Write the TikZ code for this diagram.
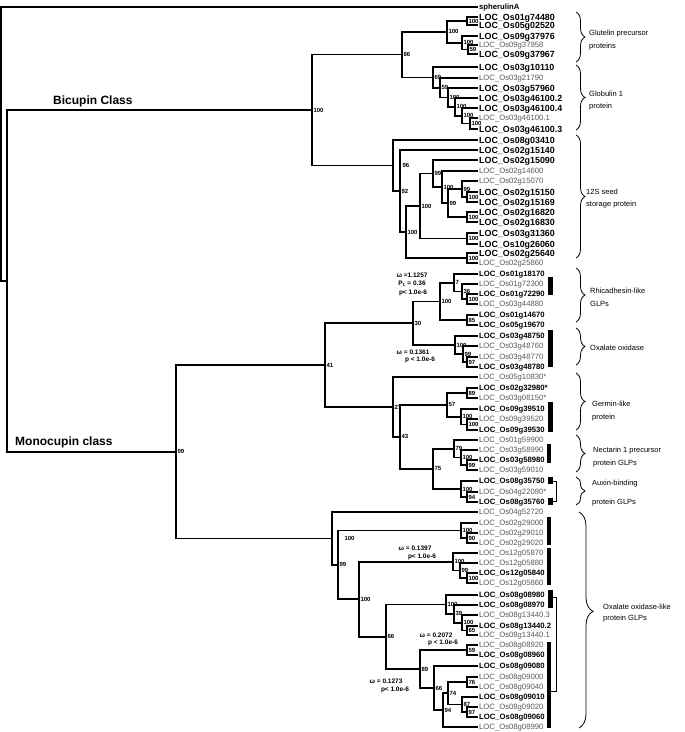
\documentclass[tikz,border=0pt]{standalone}
\usepackage{fontspec}
\setmainfont{Liberation Sans}
\usetikzlibrary{calc,decorations.pathreplacing}
\tikzset{
  tree/.style={line width=1.6pt, line cap=rect},
  thick tree/.style={line width=1.9pt, line cap=rect},
  leafR/.style={anchor=west, inner ysep=0pt, inner xsep=1.5pt, text=black!65, font=\fontsize{7.7}{8}\selectfont, text height=5.5pt, text depth=0pt},
  leafB/.style={leafR, text=black, font=\fontsize{7.7}{8}\selectfont\bfseries},
  leafU/.style={leafR, text=black, font=\fontsize{8.9}{9}\selectfont\bfseries, text height=6.4pt},
  bs/.style={anchor=west, inner sep=0.3pt, font=\fontsize{6}{6.5}\selectfont\bfseries},
  om/.style={inner sep=0pt, font=\fontsize{6.5}{7}\selectfont\bfseries},
  cls/.style={anchor=west, inner sep=0pt, font=\fontsize{12}{13}\selectfont\bfseries},
  grp/.style={anchor=west, inner sep=0pt, font=\fontsize{7.5}{8}\selectfont},
  brc/.style={decorate, decoration={brace, amplitude=9pt}, line width=0.8pt},
  bar/.style={fill=black}
}
\newcommand{\lf}[4]{\node[#4] (#1) at (477.5,#2) {#3};}
\newcommand{\nd}[6][1]{%
  \path let \p1=(#4), \p2=(#5) in coordinate (#2) at (#3pt,{0.5*(\y1+\y2)});
  \draw[tree] (#2) |- (#4);
  \draw[tree] (#2) |- (#5);
  \node[bs] (lb#2) at ([xshift=#1pt]#2) {#6};}
\begin{document}
\begin{tikzpicture}[x=1pt,y=-1pt]
\useasboundingbox (0,0) rectangle (685,732);
% leaves
\lf{L1}{7}{spherulinA}{leafB}
\lf{L2}{17}{LOC\_Os01g74480}{leafU}
\lf{L3}{25}{LOC\_Os05g02520}{leafU}
\lf{L4}{36}{LOC\_Os09g37976}{leafU}
\lf{L5}{45}{LOC\_Os09g37958}{leafR}
\lf{L6}{54}{LOC\_Os09g37967}{leafU}
\lf{L7}{67}{LOC\_Os03g10110}{leafU}
\lf{L8}{78}{LOC\_Os03g21790}{leafR}
\lf{L9}{88}{LOC\_Os03g57960}{leafU}
\lf{L10}{98}{LOC\_Os03g46100.2}{leafU}
\lf{L11}{108}{LOC\_Os03g46100.4}{leafU}
\lf{L12}{118}{LOC\_Os03g46100.1}{leafR}
\lf{L13}{129}{LOC\_Os03g46100.3}{leafU}
\lf{L14}{140}{LOC\_Os08g03410}{leafU}
\lf{L15}{150}{LOC\_Os02g15140}{leafU}
\lf{L16}{160}{LOC\_Os02g15090}{leafU}
\lf{L17}{171}{LOC\_Os02g14600}{leafR}
\lf{L18}{181}{LOC\_Os02g15070}{leafR}
\lf{L19}{192}{LOC\_Os02g15150}{leafU}
\lf{L20}{202}{LOC\_Os02g15169}{leafU}
\lf{L21}{212}{LOC\_Os02g16820}{leafU}
\lf{L22}{222}{LOC\_Os02g16830}{leafU}
\lf{L23}{233}{LOC\_Os03g31360}{leafU}
\lf{L24}{244}{LOC\_Os10g26060}{leafU}
\lf{L25}{253}{LOC\_Os02g25640}{leafU}
\lf{L26}{263}{LOC\_Os02g25860}{leafR}
\lf{L27}{274}{LOC\_Os01g18170}{leafB}
\lf{L28}{284}{LOC\_Os01g72300}{leafR}
\lf{L29}{294}{LOC\_Os01g72290}{leafB}
\lf{L30}{304}{LOC\_Os03g44880}{leafR}
\lf{L31}{315}{LOC\_Os01g14670}{leafB}
\lf{L32}{325}{LOC\_Os05g19670}{leafB}
\lf{L33}{336}{LOC\_Os03g48750}{leafB}
\lf{L34}{346}{LOC\_Os03g48760}{leafR}
\lf{L35}{357}{LOC\_Os03g48770}{leafR}
\lf{L36}{367}{LOC\_Os03g48780}{leafB}
\lf{L37}{377}{LOC\_Os05g10830*}{leafR}
\lf{L38}{388}{LOC\_Os02g32980*}{leafB}
\lf{L39}{398}{LOC\_Os03g08150*}{leafR}
\lf{L40}{409}{LOC\_Os09g39510}{leafB}
\lf{L41}{419}{LOC\_Os09g39520}{leafR}
\lf{L42}{430}{LOC\_Os09g39530}{leafB}
\lf{L43}{440}{LOC\_Os01g59900}{leafR}
\lf{L44}{450}{LOC\_Os03g58990}{leafR}
\lf{L45}{460}{LOC\_Os03g58980}{leafB}
\lf{L46}{470}{LOC\_Os03g59010}{leafR}
\lf{L47}{481}{LOC\_Os08g35750}{leafB}
\lf{L48}{492}{LOC\_Os04g22080*}{leafR}
\lf{L49}{502}{LOC\_Os08g35760}{leafB}
\lf{L50}{512}{LOC\_Os04g52720}{leafR}
\lf{L51}{523}{LOC\_Os02g29000}{leafR}
\lf{L52}{533}{LOC\_Os02g29010}{leafR}
\lf{L53}{543}{LOC\_Os02g29020}{leafR}
\lf{L54}{553}{LOC\_Os12g05870}{leafR}
\lf{L55}{563}{LOC\_Os12g05880}{leafR}
\lf{L56}{573}{LOC\_Os12g05840}{leafB}
\lf{L57}{583}{LOC\_Os12g05860}{leafR}
\lf{L58}{595}{LOC\_Os08g08980}{leafB}
\lf{L59}{605}{LOC\_Os08g08970}{leafB}
\lf{L60}{615}{LOC\_Os08g13440.3}{leafR}
\lf{L61}{626}{LOC\_Os08g13440.2}{leafB}
\lf{L62}{635}{LOC\_Os08g13440.1}{leafR}
\lf{L63}{645}{LOC\_Os08g08920}{leafR}
\lf{L64}{655}{LOC\_Os08g08960}{leafB}
\lf{L65}{666}{LOC\_Os08g09080}{leafB}
\lf{L66}{677}{LOC\_Os08g09000}{leafR}
\lf{L67}{687}{LOC\_Os08g09040}{leafR}
\lf{L68}{697}{LOC\_Os08g09010}{leafB}
\lf{L69}{707}{LOC\_Os08g09020}{leafR}
\lf{L70}{717}{LOC\_Os08g09060}{leafB}
\lf{L71}{727}{LOC\_Os08g08990}{leafR}
% Bicupin clade
\nd{nG1}{467}{L2.west}{L3.west}{100}
\nd{nG3}{468}{L5.west}{L6.west}{59}
\nd{nG2}{462}{L4.west}{nG3}{100}
\nd{nGlu}{447}{nG1}{nG2}{100}
\nd{nB6}{470}{L12.west}{L13.west}{100}
\nd{nB5}{462}{L11.west}{nB6}{100}
\nd{nB4}{455}{L10.west}{nB5}{100}
\nd{nB3}{448}{L9.west}{nB4}{100}
\nd{nB2}{440}{L8.west}{nB3}{59}
\nd{nGlob}{433}{L7.west}{nB2}{69}
\nd{n86}{402}{nGlu}{nGlob}{86}
\nd{nS5}{467}{L19.west}{L20.west}{100}
\nd{nS4}{462}{L18.west}{nS5}{99}
\nd{nS6}{467}{L21.west}{L22.west}{100}
\nd{nS3}{448}{nS4}{nS6}{99}
\nd{nS2}{442}{L17.west}{nS3}{100}
\nd{nS1}{433}{L16.west}{nS2}{99}
\nd{nS31}{467}{L23.west}{L24.west}{100}
\nd{nSc}{420}{nS1}{nS31}{100}
\nd{nS25}{467}{L25.west}{L26.west}{100}
\nd{nSd}{406}{nSc}{nS25}{100}
\nd{n92}{400}{L15.west}{nSd}{92}
\nd[9]{n96}{393}{L14.west}{n92}{96}
\nd{nBic}{312}{n86}{n96}{100}
% Monocupin: GLP clade
\nd{nR100}{467}{L29.west}{L30.west}{100}
\nd{n36}{462}{L28.west}{nR100}{36}
\nd{n7}{454}{L27.west}{n36}{7}
\nd{n85}{467}{L31.west}{L32.west}{85}
\nd{nRh}{440}{n7}{n85}{100}
\nd{nO97}{467}{L35.west}{L36.west}{97}
\nd{nO99}{463}{L34.west}{nO97}{99}
\nd{nOx}{455}{L33.west}{nO99}{100}
\nd{n30}{413}{nRh}{nOx}{30}
\nd{n89g}{467}{L38.west}{L39.west}{89}
\nd{nGe2}{467}{L41.west}{L42.west}{100}
\nd{nGe1}{461}{L40.west}{nGe2}{100}
\nd{n57}{447}{n89g}{nGe1}{57}
\nd{nN99}{467}{L45.west}{L46.west}{99}
\nd{nN100}{461}{L44.west}{nN99}{100}
\nd{n79}{454}{L43.west}{nN100}{79}
\nd{nAu94}{467}{L48.west}{L49.west}{94}
\nd{nAu}{461}{L47.west}{nAu94}{100}
\nd{n75}{433}{n79}{nAu}{75}
\nd{n43}{400}{n57}{n75}{43}
\nd{n27}{393}{L37.west}{n43}{27}
\nd{n41}{325}{n30}{n27}{41}
% Monocupin: oxalate oxidase-like clade
\nd{n29b}{467}{L52.west}{L53.west}{90}
\nd{n29}{461}{L51.west}{n29b}{100}
\nd{n12c}{467}{L56.west}{L57.west}{100}
\nd{n12b}{460}{L55.west}{n12c}{99}
\nd{n12}{453}{L54.west}{n12b}{100}
\nd{n65}{467}{L61.west}{L62.west}{65}
\nd{nP100b}{462}{L60.west}{n65}{100}
\nd{n39}{454}{L59.west}{nP100b}{39}
\nd{nP100}{446}{L58.west}{n39}{100}
\nd{n59}{467}{L63.west}{L64.west}{59}
\nd{n97b}{467}{L69.west}{L70.west}{97}
\nd{n87}{462}{L68.west}{n97b}{87}
\nd{n76}{467}{L66.west}{L67.west}{76}
\nd{n74}{448}{n76}{n87}{74}
\nd{n94}{443}{n74}{L71.west}{94}
\nd{nQ}{434}{L65.west}{n94}{66}
\nd{n89}{420}{n59}{nQ}{89}
\nd{n66}{386}{nP100}{n89}{66}
\nd{nc}{359}{n12}{n66}{100}
\nd{nb}{338}{n29}{nc}{99}
\nd[12]{na}{332}{L50.west}{nb}{100}
\nd{nMono}{176}{n41}{na}{99}
% root
\path let \p1=(nBic), \p2=(nMono) in coordinate (r1) at (7pt,{0.5*(\y1+\y2)});
\draw[thick tree] (r1) |- (nBic);
\draw[thick tree] (r1) |- (nMono);
\path let \p1=(L1.west), \p2=(r1) in coordinate (r0) at (1pt,{0.5*(\y1+\y2)});
\draw[thick tree] (r0) |- (L1.west);
\draw[thick tree] (r0) |- (r1);
% class labels
\node[cls] (bic) at (53,101) {Bicupin Class};
\node[cls] (mono) at (15,442) {Monocupin class};
% omega labels
\node[om] (w1a) at (412,275) {ω =1.1257};
\node[om] (w1b) at (412,284) {P\textsubscript{1} = 0.36};
\node[om] (w1c) at (413,293) {p< 1.0e-6};
\node[om] (w2a) at (413,352) {ω = 0.1361};
\node[om] (w2b) at (420,360) {p < 1.0e-6};
\node[om] (w3a) at (415,548) {ω = 0.1397};
\node[om] (w3b) at (422,557) {p< 1.0e-6};
\node[om] (w4a) at (436,635) {ω = 0.2072};
\node[om] (w4b) at (443,643) {p < 1.0e-6};
\node[om] (w5a) at (386,681) {ω = 0.1273};
\node[om] (w5b) at (395,690) {p< 1.0e-6};
% black bars
\fill[bar] (548,277) rectangle (553,295);
\fill[bar] (548,330) rectangle (553,367);
\fill[bar] (548,402) rectangle (553,432);
\fill[bar] (547,444) rectangle (551,463);
\fill[bar] (548,477) rectangle (553,484);
\fill[bar] (548,498) rectangle (553,505);
\draw[line width=1pt] (553,481) -- (556,481) -- (556,501) -- (553,501);
\fill[bar] (547,517) rectangle (551,545);
\fill[bar] (547,548) rectangle (551,585);
\fill[bar] (548,590) rectangle (553,608);
\fill[bar] (547,642) rectangle (551,728);
\draw[line width=1pt] (553,597) -- (556,597) -- (556,691) -- (551,691);
% braces
\draw[brc] (576,12) -- (576,62);
\draw[brc] (576,65) -- (576,130);
\draw[brc] (576,135) -- (576,258);
\draw[brc] (576,268) -- (576,322);
\draw[brc] (576,328) -- (576,365);
\draw[brc] (576,373) -- (576,430);
\draw[brc] (576,435) -- (576,472);
\draw[brc] (576,477) -- (576,505);
\draw[brc, decoration={brace, amplitude=14pt, aspect=0.46}] (579,512) -- (579,728);
% group labels
\node[grp] (g1a) at (589,34) {Glutelin precursor};
\node[grp] (g1b) at (589,47) {proteins};
\node[grp] (g2a) at (589,94) {Globulin 1};
\node[grp] (g2b) at (589,107) {protein};
\node[grp] (g3a) at (586,192) {12S seed};
\node[grp] (g3b) at (586,205) {storage protein};
\node[grp] (g4a) at (590,291) {Rhicadhesin-like};
\node[grp] (g4b) at (590,304) {GLPs};
\node[grp] (g5a) at (590,348) {Oxalate oxidase};
\node[grp] (g6a) at (592,404) {Germin-like};
\node[grp] (g6b) at (592,418) {protein};
\node[grp] (g7a) at (593,451) {Nectarin 1 precursor};
\node[grp] (g7b) at (593,464) {protein GLPs};
\node[grp] (g8a) at (592,484) {Auxin-binding};
\node[grp] (g8b) at (592,503) {protein GLPs};
\node[grp] (g9a) at (603,607) {Oxalate oxidase-like};
\node[grp] (g9b) at (603,619) {protein GLPs};
\end{tikzpicture}
\end{document}
